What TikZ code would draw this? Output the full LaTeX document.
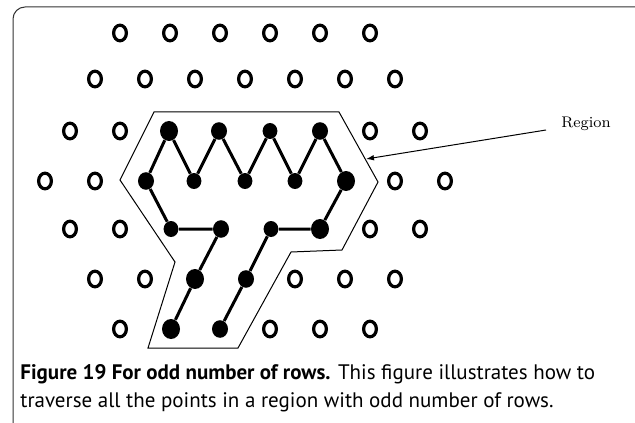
\documentclass[tikz,border=0pt]{standalone}
\usepackage{fontspec}
\setsansfont{PT Sans}
\usetikzlibrary{shapes.geometric,arrows.meta}
\begin{document}
\begin{tikzpicture}[x=0.5pt,y=-0.5pt,
  opendot/.style={ellipse,draw,line width=1.6pt,minimum width=6.4pt,minimum height=7.8pt,inner sep=0pt},
  bigdot/.style={ellipse,fill,minimum width=9pt,minimum height=10pt,inner sep=0pt},
  middot/.style={ellipse,fill,minimum width=8pt,minimum height=8.8pt,inner sep=0pt},
  smalldot/.style={ellipse,fill,minimum width=7.4pt,minimum height=8pt,inner sep=0pt},
  trail/.style={line width=1.5pt},
  regionline/.style={line width=0.5pt},
  captext/.style={anchor=base west,inner sep=0pt,font=\sffamily\fontsize{10.5}{13}\selectfont}
]
\useasboundingbox (0,0) rectangle (635,422);
\clip (0,0) rectangle (635,422);
\draw[line width=0.5pt, rounded corners=6pt, black!80] (13,450) -- (13,7) -- (660,7);

% open lattice points
\foreach \x in {120,170,...,370} \node[opendot] (r1-\x) at (\x,33) {};
\foreach \x in {95,145,...,395} \node[opendot] (r2-\x) at (\x,79) {};
\foreach \x in {70,120,370,420} \node[opendot] (r3-\x) at (\x,131) {};
\foreach \x in {45,95,395,445} \node[opendot] (r4-\x) at (\x,181) {};
\foreach \x in {70,120,370,420} \node[opendot] (r5-\x) at (\x,229) {};
\foreach \x in {95,145,295,345,395} \node[opendot] (r6-\x) at (\x,279) {};
\foreach \x in {120,270,320,370} \node[opendot] (r7-\x) at (\x,329) {};

% region outline
\draw[regionline] (154,112) -- (339,112) -- (378,182) -- (342,250) -- (291,252)
  -- (238,348) -- (148,348) -- (175,262) -- (120,180) -- cycle;

% filled points
\node[bigdot] (A1) at (169,131) {};
\node[middot] (A2) at (219,131) {};
\node[smalldot] (A3) at (270,131) {};
\node[middot] (A4) at (320,131) {};
\node[middot] (B1) at (146,181) {};
\node[smalldot] (B2) at (194,181) {};
\node[smalldot] (B3) at (245,181) {};
\node[smalldot] (B4) at (295,181) {};
\node[bigdot] (B5) at (346,181) {};
\node[smalldot] (C1) at (171,229) {};
\node[middot] (C2) at (221,229) {};
\node[smalldot] (C3) at (271,229) {};
\node[bigdot] (C4) at (320,229) {};
\node[bigdot] (D1) at (195,279) {};
\node[middot] (D2) at (246,279) {};
\node[bigdot] (E1) at (171,329) {};
\node[middot] (E2) at (220,329) {};

\draw[trail] (B1) -- (A1) -- (B2) -- (A2) -- (B3) -- (A3) -- (B4) -- (A4) -- (B5)
  -- (C4) -- (C3) -- (D2) -- (E2);
\draw[trail] (B1) -- (C1) -- (C2) -- (D1) -- (E1);

% label and arrow
\node[inner sep=0pt,font=\fontsize{7.7}{9}\selectfont] (lbl) at (586,124) {Region};
\coordinate (arrS) at (546,130);
\coordinate (arrE) at (366,159);
\draw[line width=0.5pt,-{Latex[length=4pt,width=2.8pt]}] (arrS) -- (arrE);

% caption
\node[captext] (cap1) at (20,379) {\textbf{Figure 19 For odd number of rows.} This figure illustrates how to};
\node[captext] (cap2) at (20,407) {traverse all the points in a region with odd number of rows.};
\end{tikzpicture}
\end{document}
